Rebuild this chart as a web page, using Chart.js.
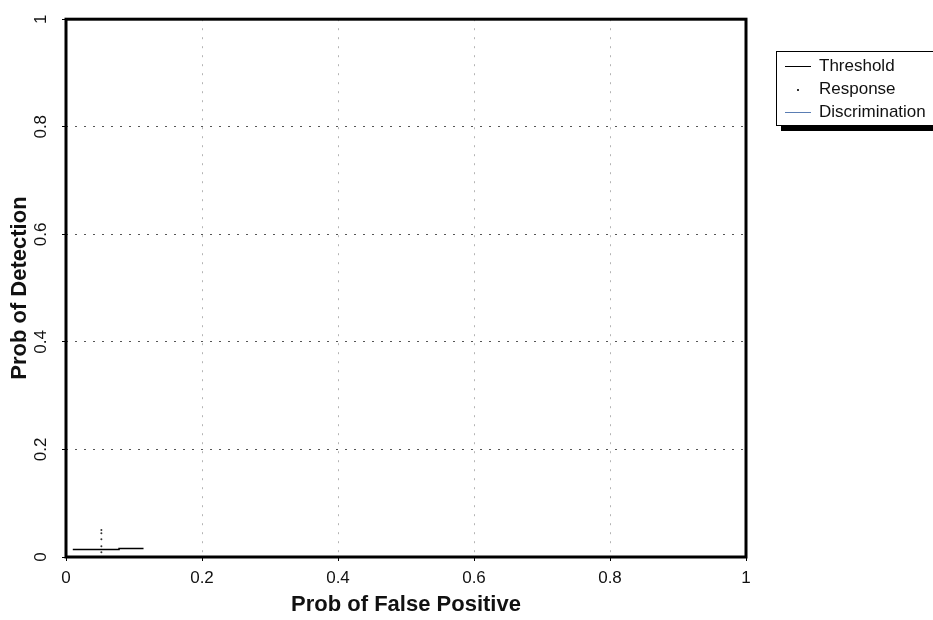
<!DOCTYPE html>
<html lang="en">
<head>
<meta charset="utf-8">
<title>Prob of Detection vs Prob of False Positive</title>
<script src="https://cdn.jsdelivr.net/npm/chart.js@4.4.1/dist/chart.umd.min.js"></script>
<style>
  html, body { margin: 0; padding: 0; background: #fff; }
  #wrap { position: relative; width: 933px; height: 620px; overflow: hidden; }
  #legend {
    position: absolute; left: 776px; top: 51px; width: 175px;
    border: 1px solid #000; background: #fff;
    box-shadow: 5px 5px 0 #000;
    font-family: "Liberation Sans", Arial, sans-serif; font-size: 17px; color: #111;
    padding: 2px 0 2px 0;
  }
  #legend .row { height: 23px; line-height: 23px; white-space: nowrap; }
  #legend .sample { display: inline-block; width: 26px; margin: 0 8px 0 8px; vertical-align: middle; }
</style>
</head>
<body>
<div id="wrap">
  <canvas id="roc" width="933" height="620"></canvas>
  <div id="legend"></div>
</div>
<script>
// series
const thresholdX = [0.01, 0.078, 0.078, 0.114];
const thresholdY = [0.014, 0.014, 0.016, 0.016];
const responseX = [0.052, 0.052, 0.052, 0.052, 0.052];
const responseY = [0.05, 0.044, 0.033, 0.02, 0.009];
const discriminationX = [];
const discriminationY = [];

// ticks
const xTickLabels = ['0', '0.2', '0.4', '0.6', '0.8', '1'];
const yTickLabels = ['0', '0.2', '0.4', '0.6', '0.8', '1'];

function pts(xs, ys) {
  return xs.map((x, i) => ({ x: x, y: ys[i] }));
}

const series = [
  { label: 'Threshold', data: pts(thresholdX, thresholdY), color: '#000', line: true },
  { label: 'Response', data: pts(responseX, responseY), color: '#333', line: false },
  { label: 'Discrimination', data: pts(discriminationX, discriminationY), color: '#5a7db3', line: true }
];

// heavy box round the plot area
const frame = {
  id: 'frame',
  afterDraw(chart) {
    const a = chart.chartArea, ctx = chart.ctx;
    ctx.save();
    ctx.strokeStyle = '#000';
    ctx.lineWidth = 3;
    ctx.strokeRect(a.left, a.top, a.right - a.left, a.bottom - a.top);
    ctx.restore();
  }
};

const tickFont = { family: '"Liberation Sans", Arial, sans-serif', size: 17 };
const titleFont = { family: '"Liberation Sans Narrow", "Liberation Sans", Arial, sans-serif', size: 22, weight: 'bold' };

new Chart(document.getElementById('roc'), {
  type: 'scatter',
  data: {
    datasets: series.map(s => ({
      label: s.label,
      data: s.data,
      showLine: s.line,
      borderColor: s.color,
      backgroundColor: s.color,
      borderWidth: 1.5,
      pointRadius: s.line ? 0 : 1,
      pointBorderWidth: 0
    }))
  },
  options: {
    responsive: false,
    animation: false,
    layout: { padding: { left: 0, right: 187, top: 12, bottom: 0 } },
    plugins: { legend: { display: false }, tooltip: { enabled: false } },
    scales: {
      x: {
        type: 'linear', min: 0, max: 1,
        afterFit: s => { s.height = 63; },
        ticks: { stepSize: 0.2, color: '#111', font: tickFont, padding: 7,
                 callback: (v) => xTickLabels[Math.round(v * 5)] },
        grid: { color: '#b4b4b4', lineWidth: 1, tickColor: '#000', tickLength: 4 },
        border: { display: false, dash: [2, 7] },
        title: { display: true, text: 'Prob of False Positive', color: '#111', font: titleFont,
                 padding: { top: 0, bottom: 2 } }
      },
      y: {
        type: 'linear', min: 0, max: 1,
        afterFit: s => { s.width = 66; },
        ticks: { stepSize: 0.2, color: '#111', font: tickFont, padding: 9,
                 minRotation: 90, maxRotation: 90, crossAlign: 'center',
                 callback: (v) => yTickLabels[Math.round(v * 5)] },
        grid: { color: '#555', lineWidth: 1, tickColor: '#000', tickLength: 4 },
        border: { display: false, dash: [2, 7] },
        title: { display: true, text: 'Prob of Detection', color: '#111', font: titleFont,
                 padding: { top: 7, bottom: 0 } }
      }
    }
  },
  plugins: [frame]
});

// legend box
const legend = document.getElementById('legend');
series.forEach(s => {
  const row = document.createElement('div');
  row.className = 'row';
  const sample = document.createElement('span');
  sample.className = 'sample';
  if (s.line) {
    sample.style.borderTop = '1.5px solid ' + s.color;
  } else {
    sample.innerHTML = '<span style="display:block;width:2px;height:2px;margin:0 auto;background:' + s.color + '"></span>';
  }
  row.appendChild(sample);
  row.appendChild(document.createTextNode(s.label));
  legend.appendChild(row);
});
</script>
</body>
</html>
